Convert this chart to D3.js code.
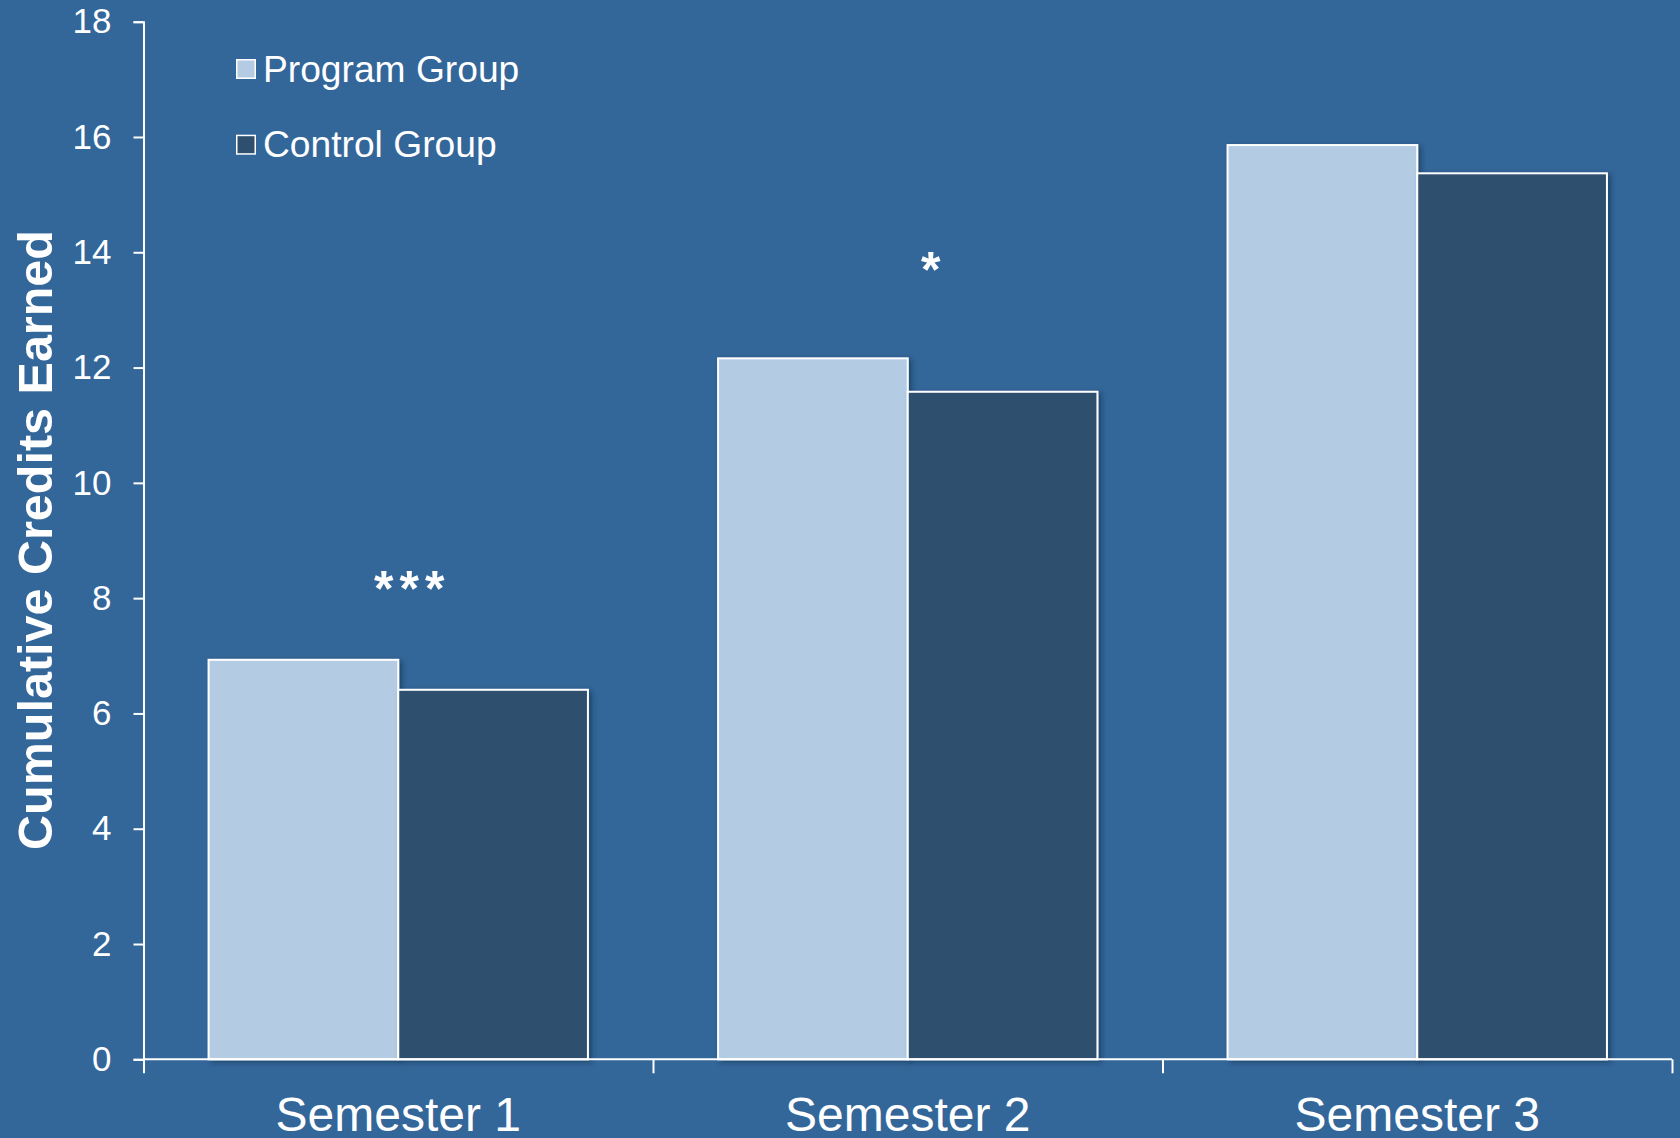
<!DOCTYPE html>
<html>
<head>
<meta charset="utf-8">
<script src="https://cdn.jsdelivr.net/npm/d3@7"></script>
<style>
  html, body { margin: 0; padding: 0; background: #336699; }
  svg { display: block; }
  text { font-family: Arial, "Liberation Sans", Helvetica, sans-serif; fill: #ffffff; }
</style>
</head>
<body>
<svg id="chart" width="1680" height="1138"></svg>
<script>
// Cumulative credits earned, by semester and research group
const semesters = ["Semester 1", "Semester 2", "Semester 3"];
const groups = ["Program Group", "Control Group"];
const programValues = [6.93, 12.16, 15.86];
const controlValues = [6.41, 11.58, 15.37];
const yTicks = [0, 2, 4, 6, 8, 10, 12, 14, 16, 18];
// significance markers, anchored at a credit level above each pair of bars
const sigLabels = ["***", "*", ""];
const sigLevels = [8.3, 13.83, 0];

const W = 1680, H = 1138;
const plotLeft = 143.5, plotRight = 1672, plotTop = 21.7, plotBottom = 1059.3;

const colors = { "Program Group": "#b3cce4", "Control Group": "#2e4f6e" };

const svg = d3.select("#chart");
svg.append("rect").attr("width", W).attr("height", H).attr("fill", "#336699");

const defs = svg.append("defs");
const shadow = defs.append("filter").attr("id", "barShadow")
  .attr("x", "-5%").attr("y", "-5%").attr("width", "115%").attr("height", "115%");
shadow.append("feDropShadow")
  .attr("dx", 3).attr("dy", 2).attr("stdDeviation", 2.5)
  .attr("flood-color", "#0d2136").attr("flood-opacity", 0.45);

const y = d3.scaleLinear().domain([0, 18]).range([plotBottom, plotTop]);
const x0 = d3.scaleBand().domain(semesters).range([plotLeft, plotRight]).paddingInner(0).paddingOuter(0);
const x1 = d3.scaleBand().domain(groups).range([0, x0.bandwidth()]).paddingInner(0).paddingOuter(0.343);

const rows = semesters.map((s, i) => ({
  semester: s,
  values: [
    { group: "Program Group", value: programValues[i] },
    { group: "Control Group", value: controlValues[i] }
  ]
}));

// bars
const gBars = svg.append("g");
rows.forEach(r => {
  const g = gBars.append("g").attr("transform", `translate(${x0(r.semester)},0)`);
  g.selectAll("rect").data(r.values).join("rect")
    .attr("x", d => x1(d.group))
    .attr("y", d => y(d.value))
    .attr("width", x1.bandwidth())
    .attr("height", d => y(0) - y(d.value))
    .attr("fill", d => colors[d.group])
    .attr("stroke", "#ffffff")
    .attr("stroke-width", 2)
    .attr("filter", "url(#barShadow)");
});

// y axis
const yAxis = d3.axisLeft(y).tickValues(yTicks).tickSize(10).tickPadding(22).tickFormat(d3.format("d"));
const gy = svg.append("g").attr("transform", `translate(${plotLeft},0)`).call(yAxis);
gy.select(".domain").attr("stroke", "#ffffff").attr("stroke-width", 2);
gy.selectAll(".tick line").attr("stroke", "#ffffff").attr("stroke-width", 2);
gy.selectAll(".tick text")
  .attr("fill", "#ffffff")
  .style("font-family", 'Arial, "Liberation Sans", sans-serif')
  .style("font-size", "35px");

// x axis: boundary ticks between categories, labels centred in each band
const boundaries = d3.scaleLinear().domain([0, semesters.length]).range([plotLeft, plotRight]);
const xTickAxis = d3.axisBottom(boundaries).tickValues(d3.range(semesters.length + 1)).tickSize(14).tickFormat("");
const gx = svg.append("g").attr("transform", `translate(0,${plotBottom})`).call(xTickAxis);
gx.select(".domain").attr("stroke", "#ffffff").attr("stroke-width", 2).attr("d", `M${plotLeft},0H${plotRight}`);
gx.selectAll(".tick line").attr("stroke", "#ffffff").attr("stroke-width", 2);

const xLabelAxis = d3.axisBottom(x0).tickSize(0).tickPadding(0);
const gxl = svg.append("g").attr("transform", `translate(0,${plotBottom})`).call(xLabelAxis);
gxl.select(".domain").remove();
gxl.selectAll(".tick text")
  .attr("fill", "#ffffff")
  .attr("dy", null)
  .attr("y", 71.5)
  .style("font-family", 'Arial, "Liberation Sans", sans-serif')
  .style("font-size", "48px");

// y axis title
svg.append("text")
  .attr("transform", "translate(52,540) rotate(-90)")
  .attr("text-anchor", "middle")
  .style("font-size", "48.5px")
  .style("font-weight", "bold")
  .text("Cumulative Credits Earned");

// significance markers
const sigOffsets = [14, 23, 0];
semesters.forEach((s, i) => {
  if (!sigLabels[i]) return;
  svg.append("text")
    .attr("x", x0(s) + x0.bandwidth() / 2 + sigOffsets[i])
    .attr("y", y(sigLevels[i]) + 25)
    .attr("text-anchor", "middle")
    .style("font-size", "50px")
    .style("font-weight", "bold")
    .style("letter-spacing", sigLabels[i].length > 1 ? "6px" : "0px")
    .text(sigLabels[i]);
});

// legend
const legend = svg.append("g").attr("transform", "translate(236,59)");
groups.forEach((g, i) => {
  const row = legend.append("g").attr("transform", `translate(0,${i * 75.7})`);
  row.append("rect")
    .attr("x", 0.75).attr("y", 0.75)
    .attr("width", 18.5).attr("height", 18.5)
    .attr("fill", colors[g])
    .attr("stroke", "#ffffff")
    .attr("stroke-width", 1.5);
  row.append("text")
    .attr("x", 27)
    .attr("y", 22.5)
    .style("font-size", "37.2px")
    .text(g);
});
</script>
</body>
</html>
